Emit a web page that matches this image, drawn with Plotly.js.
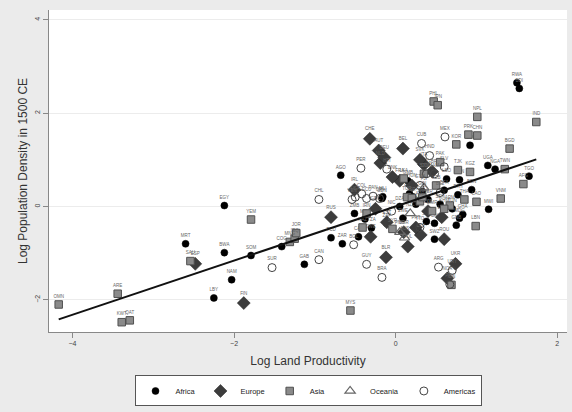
<!DOCTYPE html>
<html><head><meta charset="utf-8">
<script src="https://cdn.plot.ly/plotly-3.0.1.min.js"></script>
<style>body{margin:0;background:#ebebeb}#chart{width:572px;height:412px}</style>
</head><body><div id="chart"></div>
<script>
// ---- data ----
const africaLabels = ["EGY","MRT","BWA","LBY","NAM","SOM","COG","GAB","TCD","ZAR","CAF","AGO","ZMB","MOZ","TZA","SDN","MLI","CMR","ZWE","LBR","GIN","SLE","CIV","SWZ","LSO","ZAF","KEN","ETH","MDG","GHA","BEN","SEN","TUN","MAR","DZA","NER","BFA","GMB","MWI","UGA","NGA","TGO","RWA","BDI","ERI","GNB"];
const africaX = [-2.12,-2.60,-2.12,-2.25,-2.03,-1.79,-1.41,-1.13,-0.80,-0.66,-0.46,-0.68,-0.51,-0.38,-0.30,-0.17,-0.16,0.17,0.09,0.21,0.33,0.38,0.48,0.48,0.63,-0.11,0.79,0.77,0.79,0.83,0.94,0.55,0.70,0.25,0.05,0.40,0.60,0.15,1.15,1.14,1.23,1.65,1.50,1.53,0.92,0.75];
const africaY = [0.02,-0.80,-0.99,-1.96,-1.57,-1.05,-0.86,-1.24,-0.67,-0.80,-0.65,0.67,-0.15,-0.27,-0.46,0.17,0.21,0.27,-0.25,0.21,0.32,-0.32,-0.36,-0.70,0.59,-0.36,0.57,0.25,-0.25,-0.17,0.36,0.05,-0.05,0.05,0.00,0.15,0.35,0.55,-0.06,0.88,0.80,0.65,2.65,2.53,1.31,-0.40];

const europeLabels = ["FIN","ESP","RUS","CHE","AUT","BEL","NLD","DEU","BLR","UKR","NOR","SWE","POL","LTU","LVA","EST","FRA","GBR","ITA","IRL","DNK","PRT","GRC","HUN","CZE","ROU","BGR","SVK"];
const europeX = [-1.88,-2.48,-0.80,-0.32,-0.21,0.09,-0.19,-0.14,-0.12,0.74,0.64,-0.31,0.15,0.31,0.57,-0.11,0.05,0.45,0.35,-0.51,-0.04,0.25,-0.25,0.20,0.40,0.60,0.10,0.30];
const europeY = [-2.07,-1.23,-0.23,1.45,1.20,1.24,0.93,1.05,-1.09,-1.23,-1.54,-0.65,-0.86,-0.61,-0.23,-0.34,0.55,0.75,0.90,0.36,0.63,-0.45,-0.05,0.45,-0.10,-0.70,-0.55,1.00];

const asiaLabels = ["OMN","ARE","KWT","QAT","SAU","YEM","MNG","IRQ","JOR","MYS","PHL","JPN","NPL","IND","KOR","PRK","CHN","BGD","LBN","AFG","VNM","IRN","SYR","TUR","ISR","ARM","AZE","GEO","KAZ","TJK","KGZ","UZB","LAO","THA","KHM","MMR","IDN","LKA","PAK","BTN","TWN"];
const asiaX = [-4.17,-3.44,-3.39,-3.29,-2.54,-1.79,-1.31,-1.25,-1.23,-0.56,0.47,0.52,1.01,1.74,0.75,0.90,1.01,1.41,0.99,1.58,1.30,-0.36,-0.04,0.14,0.20,0.67,0.30,0.33,-0.41,0.77,0.92,0.50,1.00,0.85,0.60,0.45,0.69,0.10,0.55,0.35,1.35];
const asiaY = [-2.10,-1.87,-2.48,-2.44,-1.17,-0.28,-0.76,-0.69,-0.57,-2.23,2.25,2.17,1.92,1.81,1.33,1.54,1.52,1.24,-0.42,0.48,0.17,-0.15,-0.48,0.20,0.18,0.02,0.11,0.20,-0.45,0.78,0.74,0.45,0.10,0.15,-0.05,-0.10,-1.68,0.60,0.95,0.70,0.80];

const oceaniaLabels = ["AUS","PNG","NZL","FJI"];
const oceaniaX = [0.11,0.05,0.18,0.35];
const oceaniaY = [-0.67,-0.55,-0.15,0.40];

const americasLabels = ["SUR","CAN","BOL","GUY","BRA","ARG","URY","PRY","PER","CUB","MEX","CHL","VEN","USA","COL","ECU","PAN","CRI","HTI","DOM","JAM","HND","GTM","SLV","NIC","BLZ","TTO"];
const americasX = [-1.53,-0.95,-0.52,-0.36,-0.17,0.53,0.70,0.67,-0.43,0.32,0.61,-0.95,-0.54,-0.50,-0.42,-0.36,-0.28,-0.20,-0.11,0.38,0.48,0.42,0.30,0.60,-0.05,0.55,0.30];
const americasY = [-1.31,-1.14,-0.82,-1.24,-1.52,-1.30,-1.37,-1.67,0.82,1.35,1.49,0.15,0.15,0.20,0.27,0.17,0.22,0.17,0.80,0.70,0.70,1.09,0.45,0.85,-0.10,0.30,-0.45];

const fitSlope = 0.58;
const fitIntercept = 0.0;

const xTicks = [-4,-2,0,2];
const yTicks = [-2,0,2,4];
const legendNames = ["Africa","Europe","Asia","Oceania","Americas"];

// ---- traces ----
const labelFont = {family:"Liberation Sans, Arial", size:4.5, color:"#666"};
function grp(name,x,y,labels,marker){
  return {type:"scatter",mode:"markers+text",name:name,x:x,y:y,text:labels,
    textposition:"top center",textfont:labelFont,marker:marker,cliponaxis:false,hoverinfo:"text"};
}
const allX = [].concat(africaX,europeX,asiaX,oceaniaX,americasX);
const xMin = Math.min.apply(null,allX), xMax = Math.max.apply(null,allX);

const traces = [
  grp(legendNames[0],africaX,africaY,africaLabels,{symbol:"circle",size:7,color:"#000",line:{color:"#000",width:0.5}}),
  grp(legendNames[1],europeX,europeY,europeLabels,{symbol:"diamond",size:10,color:"#3c3c3c",line:{color:"#222",width:0.5}}),
  grp(legendNames[2],asiaX,asiaY,asiaLabels,{symbol:"square",size:7.5,color:"#8a8a8a",line:{color:"#505050",width:1}}),
  grp(legendNames[3],oceaniaX,oceaniaY,oceaniaLabels,{symbol:"triangle-up-open",size:9,color:"#666",line:{width:1.2}}),
  grp(legendNames[4],americasX,americasY,americasLabels,{symbol:"circle-open",size:8,color:"#444",line:{width:1}}),
  {type:"scatter",mode:"lines",x:[xMin,xMax],y:[fitIntercept+fitSlope*xMin,fitIntercept+fitSlope*xMax],
   line:{color:"#111",width:2},showlegend:false,hoverinfo:"skip"}
];

const layout = {
  width:572,height:412,
  margin:{l:49,r:5,t:10,b:74},
  paper_bgcolor:"#ebebeb",plot_bgcolor:"#fff",
  font:{family:"Liberation Sans, Arial",color:"#333"},
  showlegend:true,
  legend:{orientation:"h",x:0.5,xanchor:"center",y:-0.135,yanchor:"top",
    bgcolor:"#fff",bordercolor:"#555",borderwidth:1,font:{size:7.5,color:"#222"},
    traceorder:"normal",itemwidth:30},
  xaxis:{range:[-4.29,2.12],tickvals:xTicks,ticks:"outside",ticklen:5,tickcolor:"#888",
    showgrid:false,zeroline:false,showline:true,linecolor:"#888",linewidth:1,
    tickfont:{size:7,color:"#444"},
    title:{text:"Log Land Productivity",font:{size:12,color:"#333"},standoff:10}},
  yaxis:{range:[-2.69,4.21],tickvals:yTicks,ticks:"outside",ticklen:5,tickcolor:"#888",
    showgrid:true,gridcolor:"#ececec",gridwidth:1,zeroline:false,showline:true,linecolor:"#888",linewidth:1,
    tickangle:-90,tickfont:{size:7,color:"#444"},
    title:{text:"Log Population Density in 1500 CE",font:{size:12,color:"#333"},standoff:4}}
};
Plotly.newPlot("chart",traces,layout,{displayModeBar:false,staticPlot:true});
</script></body></html>
